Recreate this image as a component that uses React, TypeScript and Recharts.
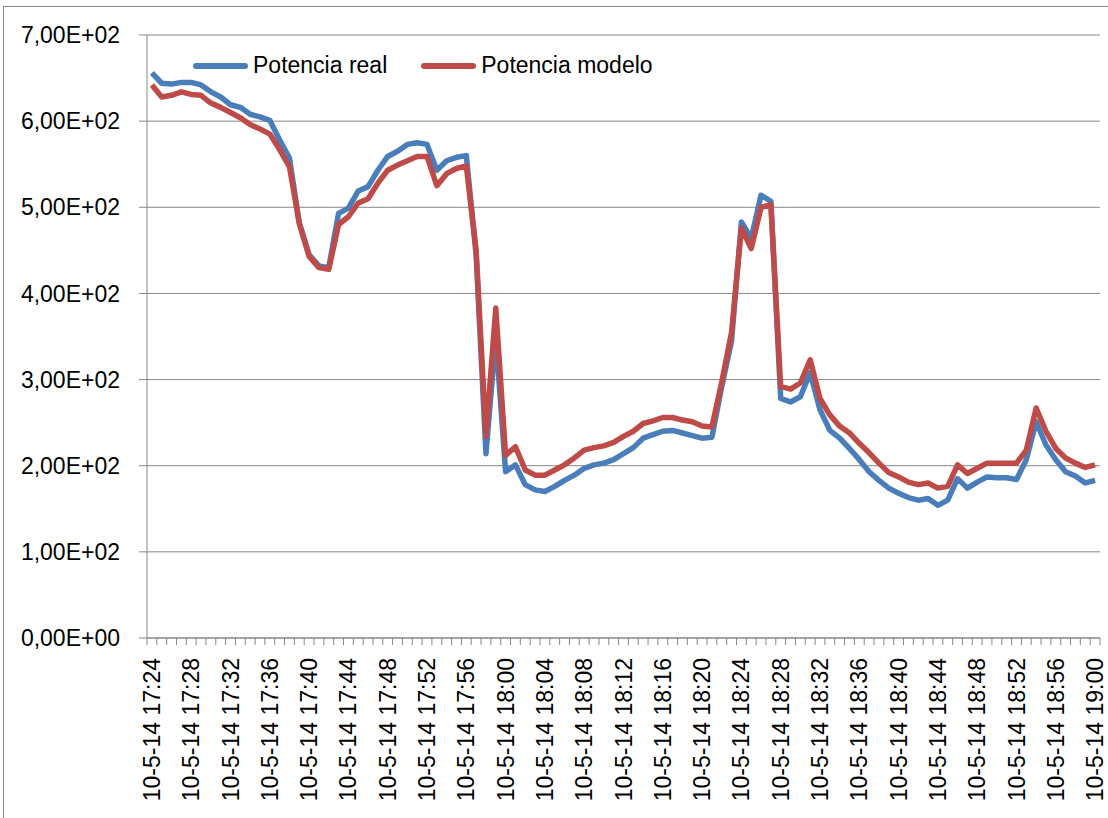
import { LineChart, Line, XAxis, YAxis, CartesianGrid, Legend } from 'recharts'

// one sample a minute, 10-5-14 17:24 .. 19:00
const startMinute = 17 * 60 + 24
const sampleCount = 97
const categories = Array.from({ length: sampleCount }, (_, i) => {
    const m = startMinute + i
    const hh = String(Math.floor(m / 60))
    const mm = String(m % 60).padStart(2, '0')
    return `10-5-14 ${hh}:${mm}`
})

const seriesNames = ['Potencia real', 'Potencia modelo']

const potenciaReal = [
    656, 644, 643, 645, 645, 642, 634, 628, 619, 616, 608, 605, 601, 578, 557, 482,
    445, 432, 430, 493, 499, 519, 524, 543, 559, 565, 573, 575, 573, 543, 554, 558,
    560, 445, 214, 350, 193, 201, 178, 172, 170, 176, 183, 189, 197, 201, 203, 207,
    214, 221, 232, 236, 240, 241, 238, 235, 232, 233, 292, 345, 483, 464, 514, 507,
    278, 274, 280, 308, 265, 241, 232, 220, 207, 193, 183, 174, 168, 163, 160, 162,
    154, 160, 185, 174, 181, 187, 186, 186, 184, 207, 251, 224, 207, 193, 188, 180,
    183,
]

const potenciaModelo = [
    642, 628, 630, 634, 631, 630, 621, 616, 610, 604, 596, 591, 585, 567, 547, 481,
    443, 430, 428, 480, 489, 505, 510, 528, 543, 549, 554, 559, 559, 525, 539, 545,
    548, 450, 234, 383, 212, 222, 195, 189, 189, 195, 201, 209, 218, 221, 223, 227,
    234, 240, 249, 252, 256, 256, 253, 251, 246, 245, 297, 355, 476, 452, 500, 503,
    292, 289, 296, 323, 278, 259, 246, 238, 226, 215, 203, 192, 187, 181, 178, 180,
    174, 176, 201, 191, 197, 203, 203, 203, 203, 218, 267, 240, 220, 209, 203, 198,
    201,
]

const yTicks = [0, 100, 200, 300, 400, 500, 600, 700]

const data = categories.map((t, i) => ({
    t,
    real: potenciaReal[i],
    modelo: potenciaModelo[i],
}))

const W = 1108
const H = 818
const LEFT = 147
const RIGHT = 8
const HALF_BAND = (W - LEFT - RIGHT) / sampleCount / 2
const GRAY = '#868686'
const FONT = '"Liberation Sans", Arial, sans-serif'

// 7,00E+02 style
const sci = (v: number) => {
    if (v === 0) return '0,00E+00'
    const exp = Math.floor(Math.log10(Math.abs(v)))
    const mant = v / Math.pow(10, exp)
    const sign = exp < 0 ? '-' : '+'
    return `${mant.toFixed(2).replace('.', ',')}E${sign}${String(Math.abs(exp)).padStart(2, '0')}`
}

const XTick = (props: any) => {
    const { x, y, payload } = props
    const i = payload.index
    return (
        <g>
            <line x1={x - HALF_BAND} y1={y} x2={x - HALF_BAND} y2={y + 7} stroke={GRAY} />
            {i === sampleCount - 1 && (
                <line x1={x + HALF_BAND} y1={y} x2={x + HALF_BAND} y2={y + 7} stroke={GRAY} />
            )}
            {i % 4 === 0 && (
                <text
                    transform={`translate(${x},${y + 20}) rotate(-90)`}
                    textAnchor="end"
                    dy="0.35em"
                    fill="#000"
                    fontSize={23}
                    fontFamily={FONT}
                >
                    {payload.value}
                </text>
            )}
        </g>
    )
}

const LegendContent = (props: any) => {
    const items = [...(props.payload || [])].sort(
        (a: any, b: any) => seriesNames.indexOf(a.value) - seriesNames.indexOf(b.value)
    )
    return (
        <div style={{ display: 'flex', alignItems: 'center', fontFamily: FONT, fontSize: 23, color: '#000' }}>
            {items.map((e: any, k: number) => (
                <div key={k} style={{ display: 'flex', alignItems: 'center', marginRight: 34 }}>
                    <span style={{ display: 'inline-block', width: 55, height: 6, borderRadius: 3, background: e.color, marginRight: 5 }} />
                    <span>{e.value}</span>
                </div>
            ))}
        </div>
    )
}

export default function App() {
    return (
        <div style={{ position: 'absolute', left: 0, top: 0, width: W, height: H, overflow: 'hidden', background: '#fff' }}>
            <div style={{ position: 'absolute', left: 3, top: 6, width: W + 20, height: H + 20, border: `1px solid ${GRAY}` }} />
            <div style={{ position: 'absolute', left: 0, top: 0 }}>
                <LineChart width={W} height={H} data={data} margin={{ top: 35, right: RIGHT, left: 0, bottom: 0 }}>
                    <CartesianGrid vertical={false} stroke={GRAY} strokeWidth={1} />
                    <XAxis
                        dataKey="t"
                        height={H - 638}
                        interval={0}
                        padding={{ left: HALF_BAND, right: HALF_BAND }}
                        axisLine={{ stroke: GRAY }}
                        tickLine={false}
                        tickSize={0}
                        tickMargin={0}
                        tick={<XTick />}
                    />
                    <YAxis
                        width={LEFT}
                        domain={[0, 700]}
                        ticks={yTicks}
                        interval={0}
                        tickFormatter={sci}
                        axisLine={{ stroke: GRAY }}
                        tickLine={{ stroke: GRAY }}
                        tickSize={8}
                        tickMargin={19}
                        tick={{ fill: '#000', fontSize: 23, fontFamily: FONT }}
                    />
                    <Legend
                        layout="horizontal"
                        verticalAlign="middle"
                        align="center"
                        wrapperStyle={{ top: 52, left: 193, width: 'auto' }}
                        content={<LegendContent />}
                    />
                    <Line
                        name={seriesNames[0]}
                        dataKey="real"
                        type="linear"
                        stroke="#4A7EBB"
                        strokeWidth={5.5}
                        strokeLinejoin="round"
                        dot={false}
                        activeDot={false}
                        isAnimationActive={false}
                    />
                    <Line
                        name={seriesNames[1]}
                        dataKey="modelo"
                        type="linear"
                        stroke="#BE4B48"
                        strokeWidth={5.5}
                        strokeLinejoin="round"
                        dot={false}
                        activeDot={false}
                        isAnimationActive={false}
                    />
                </LineChart>
            </div>
        </div>
    )
}
